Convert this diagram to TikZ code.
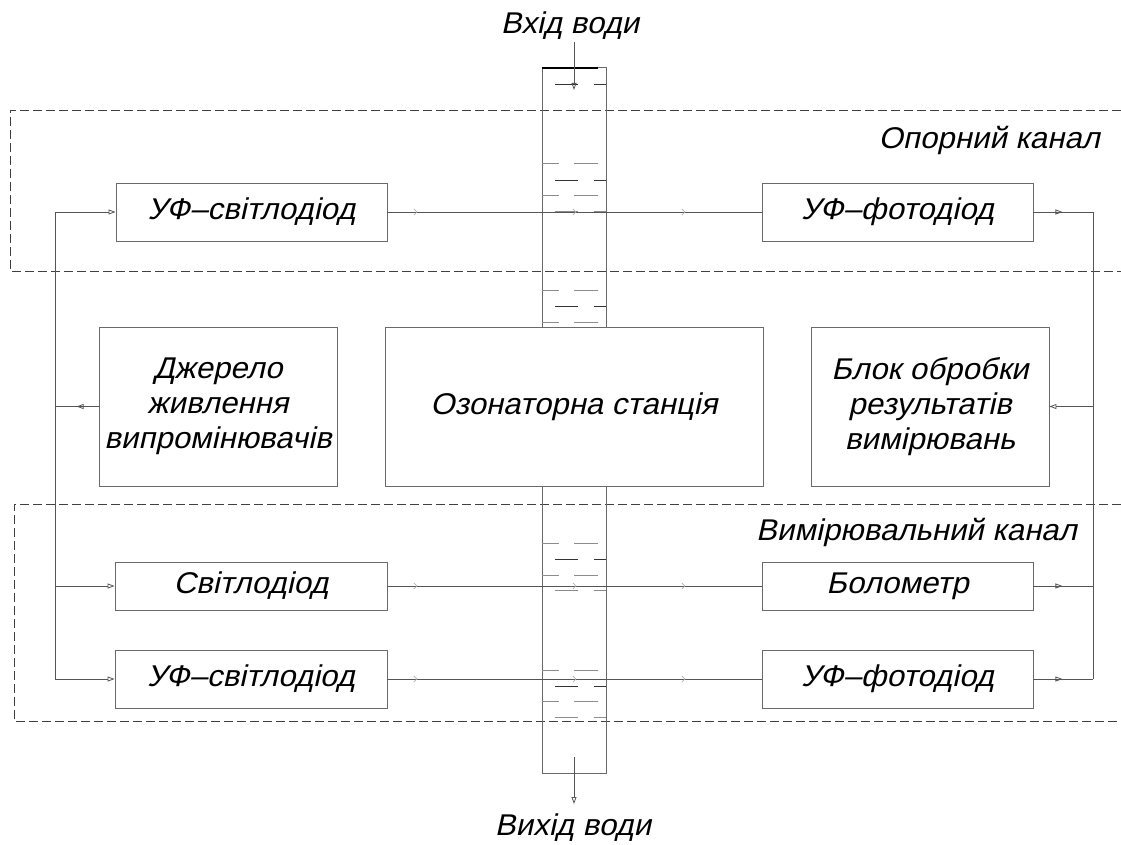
\documentclass[tikz,border=0pt]{standalone}
\usepackage{fontspec}
\newfontfamily\gost{Liberation Sans}[FakeSlant=0.22, FakeStretch=1.04]
\usetikzlibrary{arrows.meta,decorations.markings}
\definecolor{linegray}{HTML}{6A6A6A}
\definecolor{conngray}{HTML}{555555}
\definecolor{faint}{HTML}{B0B0B0}
\tikzset{
  blk/.style={draw=linegray, line width=0.9pt, inner sep=0pt, align=center,
    font=\gost\fontsize{30}{35}\selectfont, text=black},
  lbl/.style={inner sep=0pt, font=\gost\fontsize{30}{35}\selectfont, text=black},
  conn/.style={draw=conngray, line width=0.8pt},
  tip/.tip={Triangle[open, length=7pt, width=5pt]},
  midtip/.style={postaction={decorate}, decoration={markings, mark=at position #1 with {\arrow{tip}}}},
  fainttip/.style={postaction={decorate}, decoration={markings,
     mark=at position 30pt with {\arrow[faint]{Straight Barb[length=3pt,width=6pt]}},
     mark=at position 189pt with {\arrow[faint]{Straight Barb[length=3pt,width=6pt]}},
     mark=at position 298pt with {\arrow[faint]{Straight Barb[length=3pt,width=6pt]}}}},
  dsh/.style={draw=black!75, line width=0.8pt, dash pattern=on 9pt off 4pt},
  tube/.style={draw=linegray, line width=1pt},
  wA/.style={draw=black!45, line width=0.9pt},
  wB/.style={draw=black!80, line width=0.9pt},
}
\begin{document}
\begin{tikzpicture}[x=1pt,y=-1pt]
\useasboundingbox (0,0) rectangle (1121,845);

% dashed channel frames
\draw[dsh] (1121,110) -- (10,110) -- (10,271) -- (1121,271);
\draw[dsh] (1121,504) -- (14,504) -- (14,721) -- (1121,721);

% tube
\draw[tube] (542,327) -- (542,68) -- (606,68) -- (606,327);
\draw[draw=black, line width=1.6pt] (542,68) -- (598,68);
\draw[tube] (542,486) -- (542,773) -- (606,773) -- (606,486);

% water marks
\foreach \y in {163,195,290,322,543,575,670,701}{
  \draw[wA] (542,\y) -- (559,\y); \draw[wA] (574,\y) -- (598,\y);}
\foreach \y in {84,180,306,559,686}{
  \draw[wB] (555,\y) -- (578,\y); \draw[wB] (594,\y) -- (606,\y);}
\foreach \y in {211,590,717}{
  \draw[wA] (555,\y) -- (578,\y); \draw[wA] (594,\y) -- (606,\y);}

% blocks
\node[blk, minimum width=271pt, minimum height=58pt] (led1) at (251.5,212) {УФ–світлодіод};
\node[blk, minimum width=271pt, minimum height=58pt] (pd1) at (897.5,212) {УФ–фотодіод};
\node[blk, minimum width=238pt, minimum height=159pt] (src) at (218,406.5) {Джерело\\живлення\\випромінювачів};
\node[blk, minimum width=378pt, minimum height=159pt] (ozon) at (574,406.5) {Озонаторна станція};
\node[blk, minimum width=238pt, minimum height=159pt] (proc) at (930,406.5) {Блок обробки\\результатів\\вимірювань};
\node[blk, minimum width=272pt, minimum height=48pt] (led2) at (251,586) {Світлодіод};
\node[blk, minimum width=271pt, minimum height=48pt] (bol) at (897.5,586) {Болометр};
\node[blk, minimum width=272pt, minimum height=58pt] (led3) at (251,679) {УФ–світлодіод};
\node[blk, minimum width=271pt, minimum height=58pt] (pd3) at (897.5,679) {УФ–фотодіод};

% labels
\node[lbl] (win) at (570,26) {Вхід води};
\node[lbl] (wout) at (573,828) {Вихід води};
\node[lbl, anchor=east] (ref) at (1100,140) {Опорний канал};
\node[lbl, anchor=east] (meas) at (1077,532) {Вимірювальний канал};

% water arrows
\coordinate (winS) at (574,42);
\coordinate (winT) at (574,90);
\coordinate (woutS) at (574,757);
\coordinate (woutT) at (574,804);
\draw[conn,-tip] (winS) -- (winT);
\draw[conn,-tip] (woutS) -- (woutT);

% left bus
\coordinate (lt) at (55,212);
\coordinate (lz) at (55,406.5);
\coordinate (lm) at (55,586);
\coordinate (lb) at (55,679);
\draw[conn] (lt) -- (lb);
\draw[conn,-tip] (lt) -- (led1.west);
\draw[conn,-tip] (lm) -- (led2.west);
\draw[conn,-tip] (lb) -- (led3.west);
\draw[conn, midtip=22pt] (src.west) -- (lz);

% right bus
\coordinate (rt) at (1093,212);
\coordinate (rz) at (1093,406.5);
\coordinate (rm) at (1093,586);
\coordinate (rb) at (1093,679);
\draw[conn] (rt) -- (rb);
\draw[conn, midtip=29pt] (pd1.east) -- (rt);
\draw[conn, midtip=29pt] (bol.east) -- (rm);
\draw[conn, midtip=29pt] (pd3.east) -- (rb);
\draw[conn,-tip] (rz) -- (proc.east);

% optical paths
\draw[conn, fainttip] (led1.east) -- (pd1.west);
\draw[conn, fainttip] (led2.east) -- (bol.west);
\draw[conn, fainttip] (led3.east) -- (pd3.west);
\end{tikzpicture}
\end{document}
